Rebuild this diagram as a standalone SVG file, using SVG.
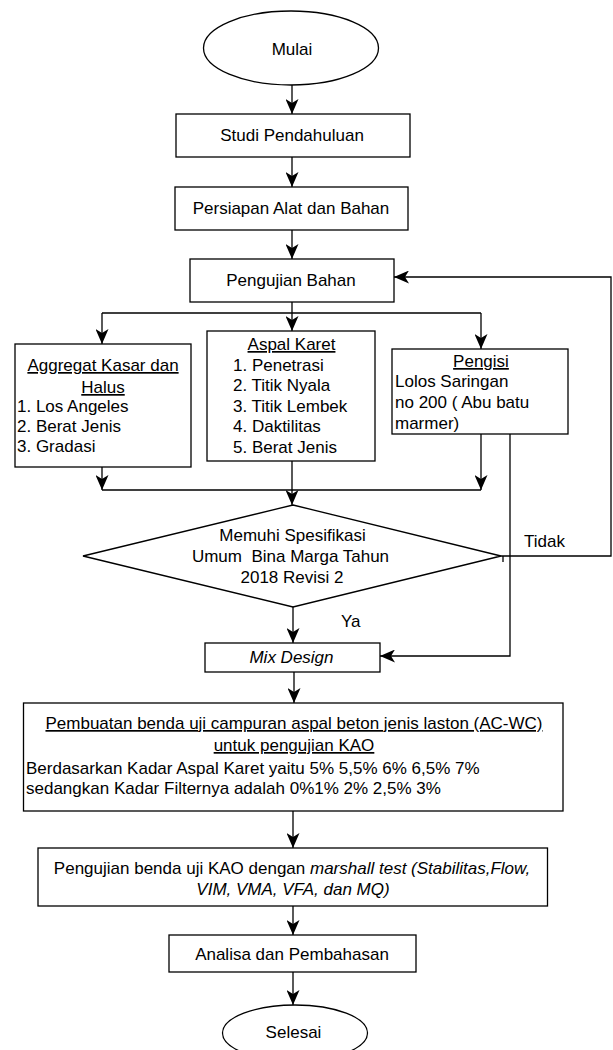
<svg xmlns="http://www.w3.org/2000/svg" width="613" height="1050" viewBox="0 0 613 1050">
<style>
.n{fill:#fff;stroke:#000;stroke-width:1.3}
.c{fill:none;stroke:#000;stroke-width:1.3}
text{font-family:"Liberation Sans",Arial,sans-serif;font-size:17px;fill:#000}
.m{text-anchor:middle}
.u{text-decoration:underline}
.i{font-style:italic}
</style>
<defs>
<marker id="arr" markerWidth="15" markerHeight="13" refX="15" refY="6.5" orient="auto" markerUnits="userSpaceOnUse" viewBox="0 0 15 13">
<path d="M0,0 L15,6.5 L0,13 L4,6.5 Z" fill="#000"/>
</marker>
</defs>
<rect width="613" height="1050" fill="#fff"/>
<g id="connectors">
<path class="c" d="M292,85 V114" marker-end="url(#arr)"/>
<path class="c" d="M292,157 V187" marker-end="url(#arr)"/>
<path class="c" d="M292,230 V259" marker-end="url(#arr)"/>
<path class="c" d="M292,302 V313 M102,313 H481"/>
<path class="c" d="M102,313 V344" marker-end="url(#arr)"/>
<path class="c" d="M292,313 V331" marker-end="url(#arr)"/>
<path class="c" d="M481,313 V349" marker-end="url(#arr)"/>
<path class="c" d="M102,467 V490" marker-end="url(#arr)"/>
<path class="c" d="M481,434 V490" marker-end="url(#arr)"/>
<path class="c" d="M292,461 V490 M102,490 H481"/>
<path class="c" d="M292,490 V505" marker-end="url(#arr)"/>
<path class="c" d="M501,556 H611 V277 H394" marker-end="url(#arr)"/>
<path class="c" d="M503,556 V562"/>
<path class="c" d="M293,607 V643" marker-end="url(#arr)"/>
<path class="c" d="M510,434 V656 H380" marker-end="url(#arr)"/>
<path class="c" d="M294,672 V703" marker-end="url(#arr)"/>
<path class="c" d="M293,811 V848" marker-end="url(#arr)"/>
<path class="c" d="M293,906 V935" marker-end="url(#arr)"/>
<path class="c" d="M293,972 V1005" marker-end="url(#arr)"/>
<text x="524" y="547">Tidak</text>
<text x="341" y="627">Ya</text>
</g>
<g id="mulai">
<ellipse class="n" cx="291" cy="48" rx="87.5" ry="37"/>
<text class="m" x="292" y="55">Mulai</text>
</g>
<g id="studi">
<rect class="n" x="176" y="114" width="234" height="43"/>
<text class="m" x="292" y="141">Studi Pendahuluan</text>
</g>
<g id="persiapan">
<rect class="n" x="175" y="187" width="233" height="43"/>
<text class="m" x="291" y="214">Persiapan Alat dan Bahan</text>
</g>
<g id="pengujian-bahan">
<rect class="n" x="190" y="259" width="204" height="43"/>
<text class="m" x="291" y="286">Pengujian Bahan</text>
</g>
<g id="aggregat">
<rect class="n" x="15" y="344" width="176" height="123"/>
<text class="m u" x="103" y="371">Aggregat Kasar dan</text>
<text class="m u" x="103" y="393">Halus</text>
<text x="17" y="412">1. Los Angeles</text>
<text x="17" y="432">2. Berat Jenis</text>
<text x="17" y="452">3. Gradasi</text>
</g>
<g id="aspal-karet">
<rect class="n" x="207" y="331" width="168" height="130"/>
<text class="m u" x="291.5" y="350">Aspal Karet</text>
<text x="233" y="371">1. Penetrasi</text>
<text x="233" y="391">2. Titik Nyala</text>
<text x="233" y="412">3. Titik Lembek</text>
<text x="233" y="432">4. Daktilitas</text>
<text x="233" y="453">5. Berat Jenis</text>
</g>
<g id="pengisi">
<rect class="n" x="392" y="349" width="176" height="85"/>
<text class="m u" x="481" y="367">Pengisi</text>
<text x="395" y="387">Lolos Saringan</text>
<text x="395" y="408">no 200 ( Abu batu</text>
<text x="395" y="429">marmer)</text>
</g>
<g id="spesifikasi">
<polygon class="n" points="293,505 501,556 293,607 83,556"/>
<text class="m" x="292.5" y="541">Memuhi Spesifikasi</text>
<text class="m" x="290.5" y="562" xml:space="preserve">Umum  Bina Marga Tahun</text>
<text class="m" x="292" y="583">2018 Revisi 2</text>
</g>
<g id="mix-design">
<rect class="n" x="205" y="643" width="175" height="29"/>
<text class="m i" x="291.5" y="663">Mix Design</text>
</g>
<g id="pembuatan">
<rect class="n" x="23.5" y="703" width="539.5" height="108"/>
<text class="m u" x="294" y="729">Pembuatan benda uji campuran aspal beton jenis laston (AC-WC)</text>
<text class="m u" x="294" y="751">untuk pengujian KAO</text>
<text x="26" y="774">Berdasarkan Kadar Aspal Karet yaitu 5% 5,5% 6% 6,5% 7%</text>
<text x="26" y="794">sedangkan Kadar Filternya adalah 0%1% 2% 2,5% 3%</text>
</g>
<g id="pengujian-kao">
<rect class="n" x="38" y="848" width="509.5" height="58"/>
<text class="m" x="292" y="874">Pengujian benda uji KAO dengan <tspan class="i">marshall test (Stabilitas,Flow,</tspan></text>
<text class="m i" x="293" y="895">VIM, VMA, VFA, dan MQ)</text>
</g>
<g id="analisa">
<rect class="n" x="169" y="935" width="247" height="37"/>
<text class="m" x="292" y="960">Analisa dan Pembahasan</text>
</g>
<g id="selesai">
<ellipse class="n" cx="295" cy="1033" rx="72.5" ry="28"/>
<text class="m" x="293.5" y="1038">Selesai</text>
</g>
</svg>
